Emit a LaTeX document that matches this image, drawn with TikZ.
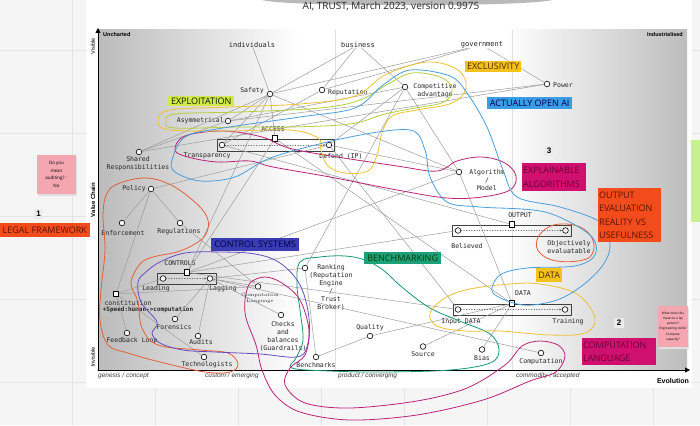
\documentclass[tikz,border=0pt]{standalone}
\usepackage{fontspec}
\setmonofont{DejaVu Sans Mono}
\newfontfamily\uifont{Open Sans}
\newfontfamily\axfont{Liberation Sans}
\usetikzlibrary{arrows.meta}

\definecolor{linkgray}{HTML}{9C9C9C}
\definecolor{boardgray}{HTML}{F5F5F5}
\definecolor{gridgray}{HTML}{E4E4E4}
\definecolor{plotgrayL}{HTML}{BBBBBB}
\definecolor{plotgrayR}{HTML}{BDBDBD}
\definecolor{exploitfill}{HTML}{D5E84A}
\definecolor{exclufill}{HTML}{F5C21B}
\definecolor{openfill}{HTML}{3A9DE6}
\definecolor{ctrlfill}{HTML}{3B3BB3}
\definecolor{benchfill}{HTML}{1EA07B}
\definecolor{magfill}{HTML}{D0106F}
\definecolor{magtext}{HTML}{6A0036}
\definecolor{redfill}{HTML}{F24C1D}
\definecolor{redtext}{HTML}{5C1200}
\definecolor{pinknote}{HTML}{F4A7B1}
\definecolor{greennote}{HTML}{C8F08E}
\definecolor{numgray}{HTML}{EBEBEB}
\definecolor{yelloop}{HTML}{EDC232}
\definecolor{grnloop}{HTML}{B3CF3C}
\definecolor{bluloop}{HTML}{4A9FDB}
\definecolor{magloop}{HTML}{B8237A}
\definecolor{purloop}{HTML}{6A4CC2}
\definecolor{redloop}{HTML}{E2603A}
\definecolor{tealloop}{HTML}{18967A}

\tikzset{
  comp/.style={circle,draw=black,fill=white,line width=0.6pt,inner sep=0pt,minimum size=5.6pt},
  pipesq/.style={rectangle,draw=black,fill=white,line width=1pt,inner sep=0pt,minimum size=5.5pt},
  lbl/.style={font=\ttfamily\fontsize{6.5}{8}\selectfont,inner sep=0pt,align=center,text=black!85},
  user/.style={lbl,font=\ttfamily\fontsize{7}{8}\selectfont},
  link/.style={draw=linkgray,line width=0.5pt},
  flow/.style={draw=black!60,dotted,line width=0.6pt,-{Latex[length=2.6pt,width=2.2pt]}},
  pipebox/.style={draw=black!75,line width=0.6pt},
  hand/.style={line width=0.8pt},
  tag/.style={font=\uifont\fontsize{9}{13.5}\selectfont,inner sep=0.8pt,anchor=north west,align=left},
  axis/.style={font=\axfont\fontsize{5.5}{6}\selectfont,inner sep=0pt},
  stage/.style={font=\axfont\itshape\fontsize{6.5}{7}\selectfont,inner sep=0pt,anchor=west,text=black!75},
  num/.style={fill=numgray,font=\axfont\bfseries\fontsize{8}{9}\selectfont,inner sep=2.5pt},
  note/.style={fill=pinknote,font=\uifont\fontsize{4.5}{7.6}\selectfont,align=center,inner sep=0pt}
}

\begin{document}
\begin{tikzpicture}[x=1pt,y=-1pt,line cap=round,line join=round]
  \useasboundingbox (0,0) rectangle (700,425);
  % board and card
  \fill[boardgray] (0,0) rectangle (700,425);
  \foreach \gx in {72,155,238,321,404,487,570,653} \draw[gridgray,line width=0.6pt] (\gx,0) -- (\gx,425);
  \foreach \gy in {50,133,216,299,382} \draw[gridgray,line width=0.6pt] (0,\gy) -- (700,\gy);
  \fill[white] (86,0) rectangle (692,388);
  \fill[black!50,opacity=0.55] (262,0) .. controls (285,7) and (525,7) .. (552,0) -- cycle;
  \node[font=\uifont\fontsize{10}{12}\selectfont,text=black!85,inner sep=0pt] (title) at (391,6.5) {AI, TRUST, March 2023, version 0.9975};

  % map area
  \shade[left color=plotgrayL,right color=white] (98,30) rectangle (300,370);
  \shade[left color=white,right color=plotgrayR] (505,30) rectangle (687,370);
  \foreach \sx in {201,335,512} \draw[black!12,line width=0.5pt] (\sx,30) -- (\sx,370);
  \coordinate (origin) at (98,370);
  \coordinate (ytop) at (98,28);
  \coordinate (xend) at (690,370);
  \draw[line width=0.9pt,-{Triangle[length=5pt,width=5pt]}] (origin) -- (ytop);
  \draw[line width=0.9pt,-{Triangle[length=5pt,width=5pt]}] (origin) -- (xend);
  \node[axis,font=\axfont\bfseries\fontsize{5.5}{6}\selectfont,anchor=west] (uncharted) at (103,35) {Uncharted};
  \node[axis,font=\axfont\bfseries\fontsize{5.5}{6}\selectfont,anchor=east] (industrial) at (683,35) {Industrialised};
  \node[axis,rotate=90] (visible) at (93,46) {Visible};
  \node[axis,font=\axfont\bfseries\fontsize{6}{7}\selectfont,rotate=90] (valuechain) at (93,200) {Value Chain};
  \node[axis,rotate=90] (invisible) at (93,357) {Invisible};
  \node[stage] (genesis) at (98,376) {genesis / concept};
  \node[stage] (custom) at (205,376) {custom / emerging};
  \node[stage] (product) at (338,376) {product / converging};
  \node[stage] (commodity) at (516,376) {commodity / accepted};
  \node[axis,font=\axfont\bfseries\fontsize{7}{8}\selectfont] (evolution) at (673,381) {Evolution};

  % users
  \node[user] (ind) at (252,45) {individuals};
  \node[user] (bus) at (358,45) {business};
  \node[user] (gov) at (482,45) {government};

  % components
  \node[comp] (safety) at (270,94) {};
  \node[lbl,anchor=east] (safetyL) at (264,91) {Safety};
  \node[comp] (reputation) at (322,90) {};
  \node[lbl,anchor=west] (reputationL) at (328,93) {Reputation};
  \node[comp] (competitive) at (405,87) {};
  \node[lbl] (competitiveL) at (435,91) {Competitive\\advantage};
  \node[comp] (power) at (547,84) {};
  \node[lbl,anchor=west] (powerL) at (553,85) {Power};
  \node[comp] (asym) at (228,121) {};
  \node[lbl,anchor=east] (asymL) at (224,121) {Asymmetrical};
  \node[comp] (shared) at (139,152) {};
  \node[lbl] (sharedL) at (138,164) {Shared\\Responsibilities};
  \node[comp] (policy) at (151,189) {};
  \node[lbl,anchor=east] (policyL) at (146,189) {Policy};
  \node[comp] (enforcement) at (122,223) {};
  \node[lbl] (enforcementL) at (123,233) {Enforcement};
  \node[comp] (regulations) at (180,223) {};
  \node[lbl] (regulationsL) at (179,232) {Regulations};
  \node[comp] (algorithm) at (459,172) {};
  \node[lbl] (algorithmL) at (487,180) {Algorithm\\/\\Model};

  % pipelines
  \draw[pipebox] (217,139) rectangle (334,151);
  \node[pipesq] (access) at (275,138.5) {};
  \node[lbl] (accessL) at (273,129) {ACCESS};
  \node[comp] (transparency) at (222,145) {};
  \node[lbl] (transparencyL) at (207,156) {Transparency};
  \node[comp] (defend) at (329,145) {};
  \node[lbl] (defendL) at (341,156) {Defend (IP)};

  \draw[pipebox] (157,273) rectangle (216,284);
  \node[pipesq] (controls) at (187,272.5) {};
  \node[lbl] (controlsL) at (180,263) {CONTROLS};
  \node[comp] (leading) at (163,278.5) {};
  \node[lbl] (leadingL) at (156,289) {Leading};
  \node[comp] (lagging) at (210,278.5) {};
  \node[lbl] (laggingL) at (223,289) {Lagging};

  \draw[pipebox] (452,225) rectangle (571,236);
  \node[pipesq] (output) at (512,224.5) {};
  \node[lbl] (outputL) at (520,215) {OUTPUT};
  \node[comp] (believed) at (458,230.5) {};
  \node[lbl] (believedL) at (467,246) {Believed};
  \node[comp] (objective) at (565.5,230.5) {};
  \node[lbl] (objectiveL) at (569,247) {Objectively\\evaluatable};

  \draw[pipebox] (453,304) rectangle (571,315);
  \node[pipesq] (datasq) at (512,303.5) {};
  \node[lbl] (datasqL) at (523,293) {DATA};
  \node[comp] (inputdata) at (458,309.5) {};
  \node[lbl] (inputdataL) at (461,322) {Input DATA};
  \node[comp] (training) at (565,309.5) {};
  \node[lbl] (trainingL) at (568,322) {Training};

  \node[pipesq] (constitution) at (116,294) {};
  \node[lbl] (constitutionL) at (128,303) {constitution};
  \node[lbl,font=\ttfamily\bfseries\fontsize{6}{7}\selectfont] (speedL) at (148,309.5) {+Speed:human->computation};
  \node[comp] (forensics) at (175,319) {};
  \node[lbl] (forensicsL) at (174,327) {Forensics};
  \node[comp] (feedback) at (127,333) {};
  \node[lbl] (feedbackL) at (132,341) {Feedback Loop};
  \node[comp] (audits) at (198,336) {};
  \node[lbl] (auditsL) at (201,342.5) {Audits};
  \node[comp] (technologists) at (204,357) {};
  \node[lbl] (technologistsL) at (207,365) {Technologists};
  \node[comp] (complang) at (258,286.5) {};
  \node[font=\rmfamily\fontsize{4.8}{6.5}\selectfont,inner sep=0pt,align=center,text=black!85] (complangL) at (260,298.5) {Computation\\Language};
  \node[comp] (checks) at (281,315) {};
  \node[lbl,font=\ttfamily\fontsize{6.5}{8.3}\selectfont] (checksL) at (283,336.5) {Checks\\and\\balances\\(Guardrails)};
  \node[comp] (ranking) at (305,268) {};
  \node[lbl] (rankingL) at (331,287) {Ranking\\(Reputation\\Engine\\/\\Trust\\Broker)};
  \node[comp] (benchmarks) at (316,357) {};
  \node[lbl] (benchmarksL) at (316,365) {Benchmarks};
  \node[comp] (quality) at (370,336) {};
  \node[lbl] (qualityL) at (370,328) {Quality};
  \node[comp] (source) at (423,346.5) {};
  \node[lbl] (sourceL) at (423,354.5) {Source};
  \node[comp] (bias) at (482,349.5) {};
  \node[lbl] (biasL) at (482,358) {Bias};
  \node[comp] (computation) at (541,353) {};
  \node[lbl] (computationL) at (541,362) {Computation};

  % links
  \foreach \a/\b in {ind/safety,bus/safety,bus/reputation,bus/competitive,gov/safety,gov/reputation,gov/power,
      safety/asym,safety/access,safety/shared,safety/transparency,safety/controls,safety/algorithm,
      reputation/transparency,competitive/asym,competitive/algorithm,competitive/defend,competitive/ranking,
      power/asym,power/shared,shared/asym,access/controls,access/datasq,defend/inputdata,defend/algorithm,
      transparency/output,policy/enforcement,policy/regulations,policy/constitution,policy/defend,
      regulations/complang,controls/algorithm,controls/inputdata,controls/believed,
      lagging/computation,lagging/complang,lagging/checks,lagging/forensics,lagging/audits,lagging/ranking,
      constitution/leading,constitution/complang,constitution/feedback,constitution/technologists,
      ranking/benchmarks,benchmarks/quality,quality/datasq,source/datasq,bias/datasq,algorithm/datasq}
    \draw[link] (\a) -- (\b);
  \draw[flow] (transparency) -- (defend);
  \draw[flow] (leading) -- (lagging);
  \draw[flow] (believed) -- (objective);
  \draw[flow] (inputdata) -- (training);

  % hand drawn groupings
  \draw[hand,redloop] plot[smooth cycle,tension=0.6] coordinates {(107,193) (120,183) (147,178) (173,186) (198,205) (208,220) (206,234) (195,244) (177,252) (153,257) (140,264) (131,283) (138,302) (142,328) (158,345) (200,350) (228,353) (238,364) (230,372) (205,372) (160,362) (128,353) (108,345) (100,320) (101,290) (105,250) (103,215)};
  \draw[hand,redloop] plot[smooth cycle,tension=0.7] coordinates {(537,240) (547,228) (562,224) (580,227) (592,238) (593,252) (583,260) (557,261) (540,253)};
  \draw[hand,purloop] plot[smooth cycle,tension=0.6] coordinates {(138,282) (146,272) (160,262) (185,253) (220,252) (255,254) (280,263) (300,285) (309,318) (307,347) (296,357) (260,354) (215,352) (183,350) (160,343) (152,333) (157,322) (141,302)};
  \draw[hand,tealloop] plot[smooth cycle,tension=0.6] coordinates {(300,262) (320,257) (345,256) (365,260) (383,270) (403,288) (430,308) (462,322) (490,334) (499,350) (490,363) (450,370) (383,372) (330,371) (292,368) (296,358) (303,340) (300,310) (297,285)};
  \draw[hand,magloop] plot[smooth cycle,tension=0.6] coordinates {(175,150) (185,136) (223,131) (262,137) (297,150) (397,166) (437,171) (457,161) (482,157) (505,163) (516,176) (510,190) (482,197) (447,198) (397,190) (330,177) (273,167) (250,161) (217,162) (188,157)};
  \draw[hand,magloop] plot[smooth cycle,tension=0.55] coordinates {(245,300) (250,283) (265,277) (282,283) (300,300) (309,330) (305,355) (290,368) (285,385) (305,403) (350,408) (417,401) (467,388) (505,365) (522,346) (540,341) (558,345) (565,356) (556,372) (530,381) (483,400) (417,415) (350,420) (300,412) (275,395) (262,370) (256,345) (246,318)};
  \draw[hand,yelloop] plot[smooth cycle,tension=0.6] coordinates {(158,121) (170,110) (230,107) (300,104) (355,96) (385,75) (427,62) (458,70) (466,88) (452,103) (417,110) (392,116) (382,133) (377,155) (368,171) (345,173) (328,166) (321,150) (318,138) (290,130) (230,131) (170,130)};
  \draw[hand,yelloop] plot[smooth cycle,tension=0.6] coordinates {(430,313) (445,298) (470,289) (510,284) (540,284) (577,294) (595,318) (585,333) (550,335) (500,331) (465,331) (437,326)};
  \draw[hand,grnloop] plot[smooth cycle,tension=0.6] coordinates {(166,122) (175,114) (240,112) (320,108) (360,100) (388,84) (412,73) (440,77) (452,88) (444,102) (415,108) (385,114) (350,124) (290,127) (240,127) (175,128)};
  \draw[hand,bluloop] plot[smooth cycle,tension=0.55] coordinates {(172,160) (185,137) (223,128) (300,117) (355,108) (383,85) (410,70) (450,76) (467,93) (487,127) (503,170) (517,197) (560,207) (600,222) (610,245) (603,265) (583,285) (557,300) (523,305) (493,293) (500,275) (527,268) (575,266) (595,255) (590,235) (545,212) (480,207) (447,202) (430,177) (425,150) (410,130) (350,137) (273,157) (235,177) (200,181) (175,172)};

  % labels of the groupings
  \node[tag,fill=exploitfill,text=black!70!green!40!black,minimum width=66pt,minimum height=10pt] (exploitation) at (168,96) {EXPLOITATION};
  \node[tag,fill=exclufill,text=black!70!orange,minimum width=56pt,minimum height=11pt] (exclusivity) at (465,61) {EXCLUSIVITY};
  \node[tag,fill=openfill,text=blue!30!black,minimum width=85pt,minimum height=12pt] (openai) at (487,97) {ACTUALLY OPEN AI};
  \node[tag,fill=ctrlfill,text=blue!25!black,minimum width=88pt,minimum height=13pt] (ctrlsys) at (211,238) {CONTROL SYSTEMS};
  \node[tag,fill=benchfill,text=green!25!black,minimum width=77pt,minimum height=12pt] (benchmarking) at (364,252) {BENCHMARKING};
  \node[tag,fill=magfill,text=magtext,minimum width=64pt,minimum height=28pt,text width=62pt] (explain) at (522,163) {EXPLAINABLE\\ALGORITHMS};
  \node[tag,fill=redfill,text=redtext,minimum width=63pt,minimum height=54pt,text width=61pt] (outeval) at (598,188) {OUTPUT\\EVALUATION\\REALITY VS\\USEFULNESS};
  \node[tag,fill=exclufill,text=black!70!orange,minimum width=26pt,minimum height=14pt] (datatag) at (536,268) {DATA};
  \node[tag,fill=magfill,text=magtext,minimum width=74pt,minimum height=27pt,text width=72pt] (complangtag) at (582,338) {COMPUTATION\\LANGUAGE};
  \node[tag,fill=redfill,text=redtext,minimum width=90pt,minimum height=14pt,anchor=north east,align=right] (legal) at (90,223) {LEGAL FRAMEWORK};
  \node[num] (numone) at (38.5,214) {1};
  \node[num] (numtwo) at (619,323) {2};
  \node[num] (numthree) at (549,151) {3};

  % sticky notes
  \fill[black!12] (37.5,157) rectangle (77,196);
  \node[note,minimum width=39pt,minimum height=39pt] (noteone) at (56.5,174.5) {Do you\\mean\\auditing? -\\No};
  \fill[black!12] (658.5,308) rectangle (689,349);
  \node[note,font=\uifont\fontsize{3.2}{5.2}\selectfont,minimum width=30pt,minimum height=41pt] (notetwo) at (673,326.5) {What does this\\mean to a lay\\person?\\Engineering skills?\\Compute\\capacity?};
  \fill[greennote] (691,140) rectangle (700,222);
\end{tikzpicture}
\end{document}
